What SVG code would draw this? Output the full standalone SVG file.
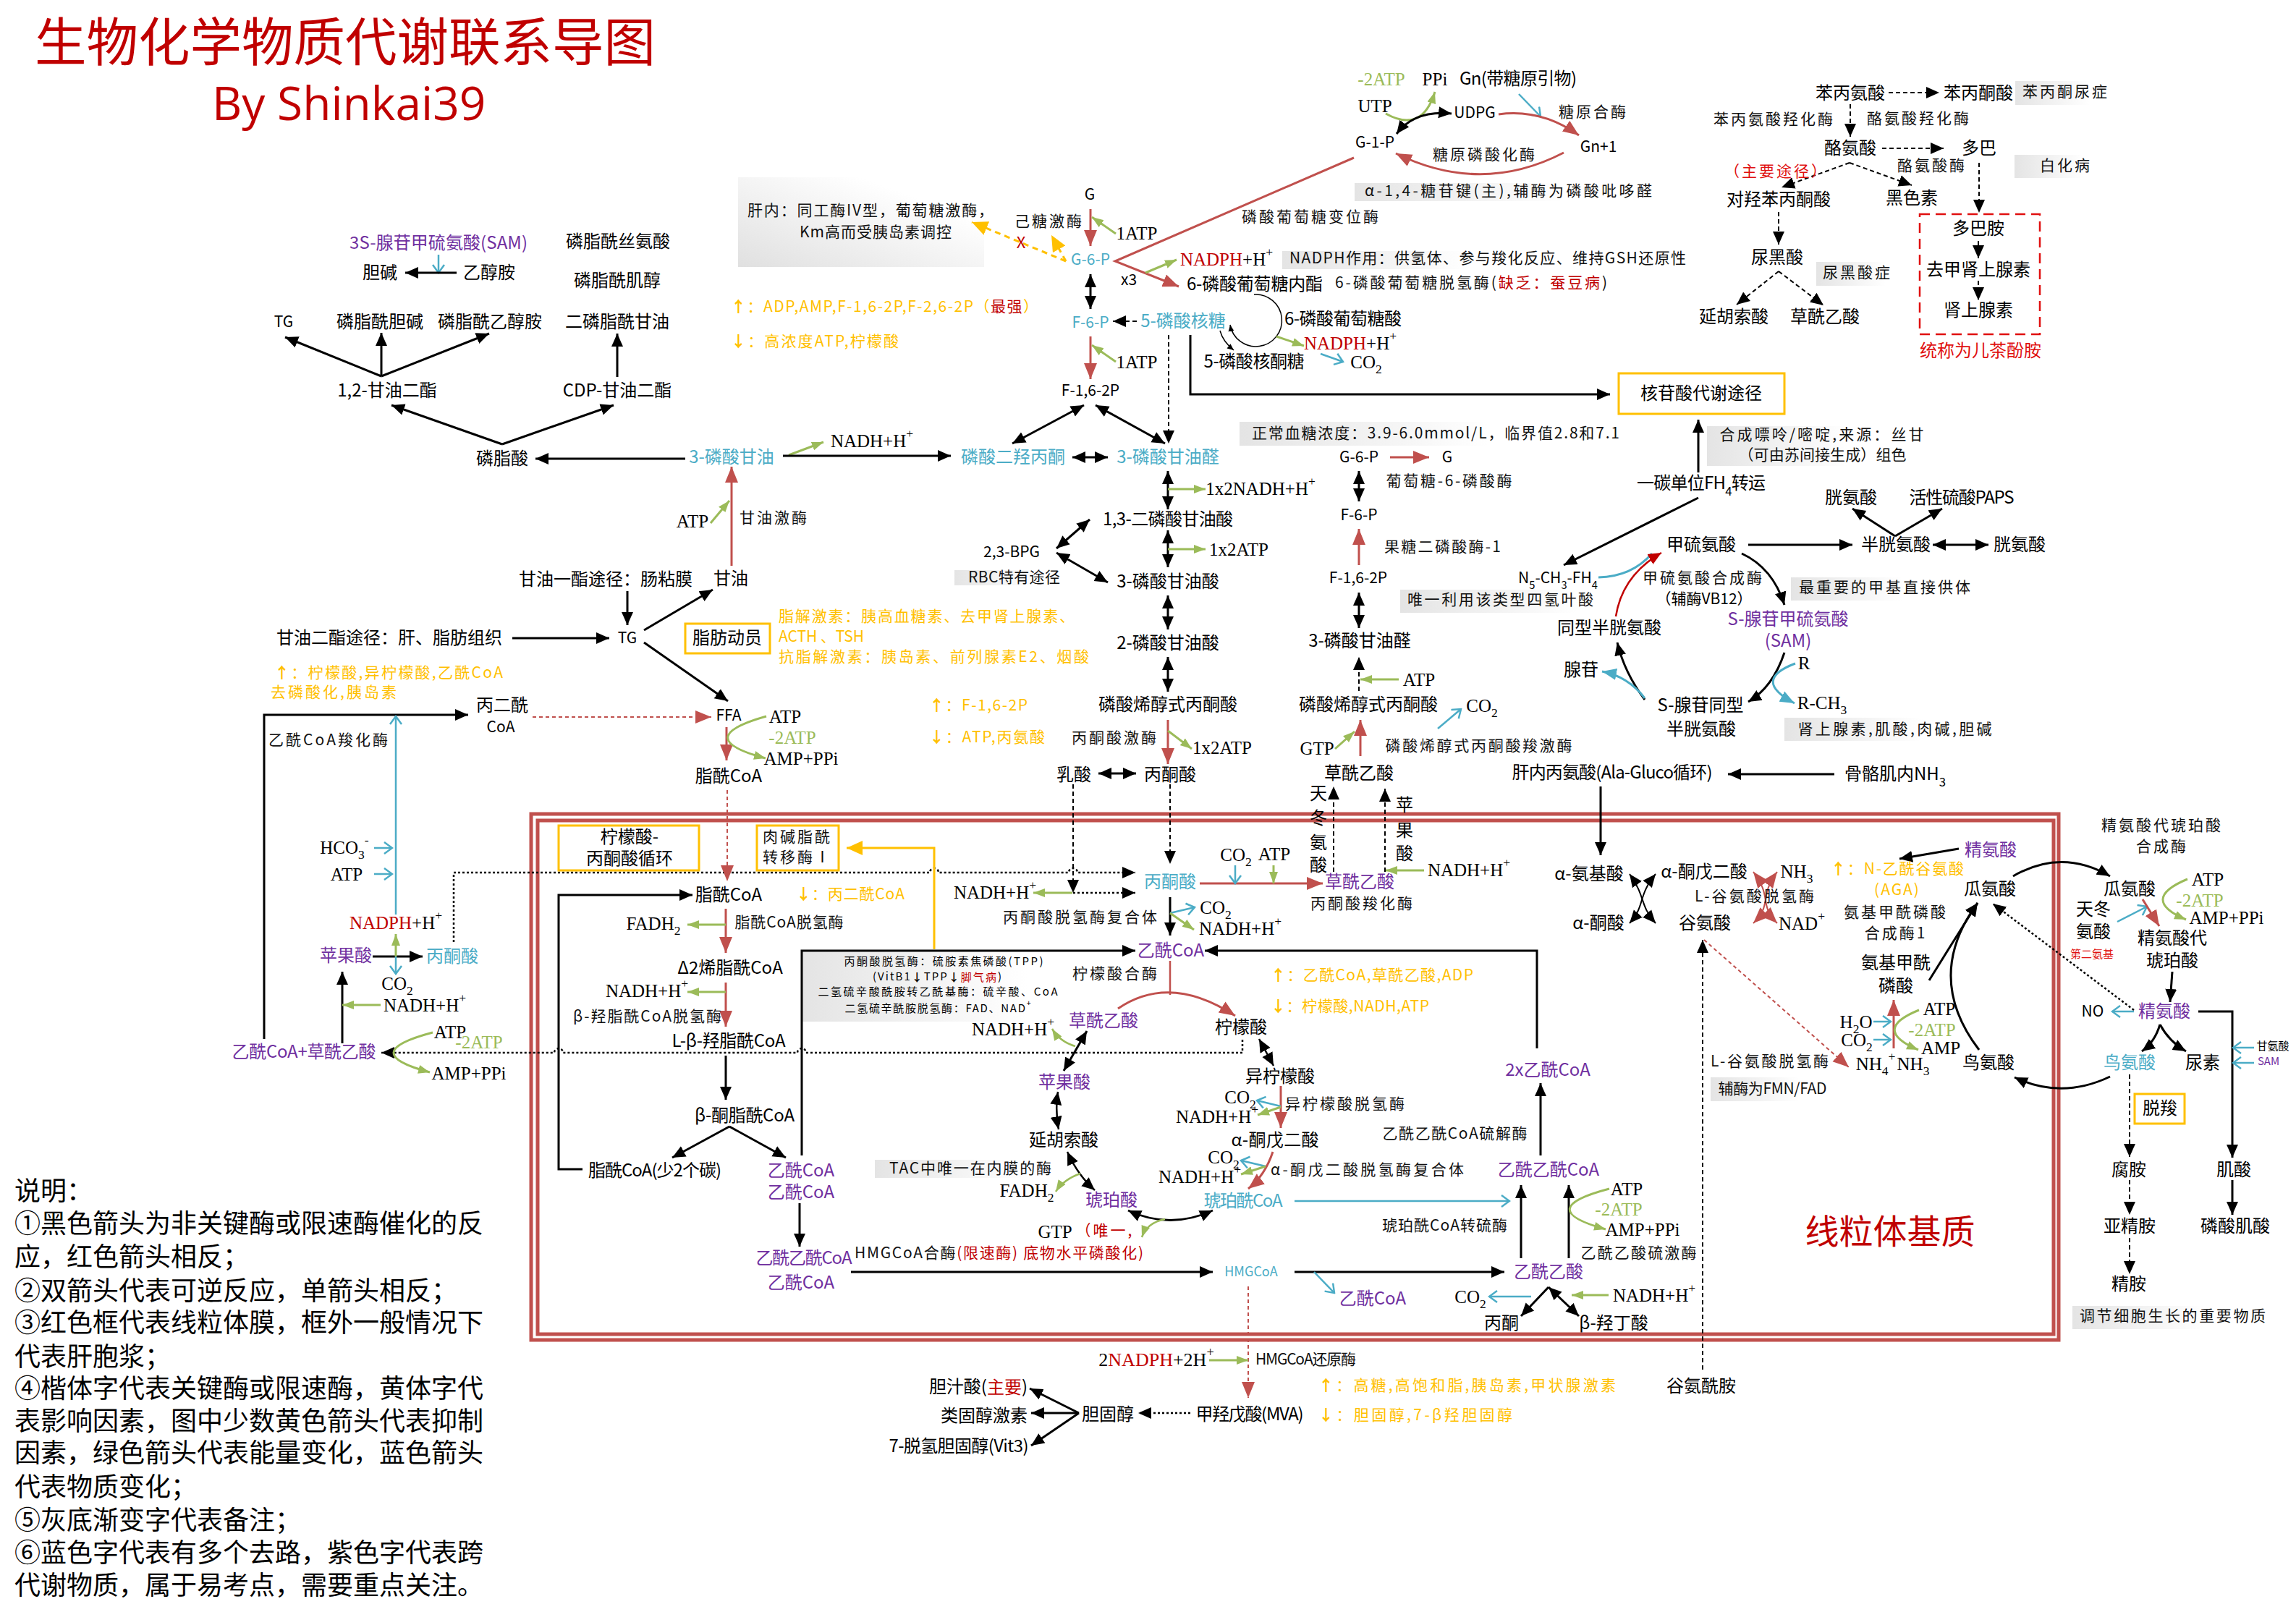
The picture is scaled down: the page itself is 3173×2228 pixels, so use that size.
<svg xmlns="http://www.w3.org/2000/svg" width="3173" height="2228" viewBox="0 0 3173 2228">
<style>
text{font-family:"Noto Sans CJK SC","Liberation Sans",sans-serif;font-size:24px;text-anchor:middle;dominant-baseline:central;fill:#000;transform:translateY(-2.5px)}
.m{font-family:"Liberation Serif","Noto Sans CJK SC",serif;font-size:25px;transform:none}
.s{font-size:21px}
.e{font-size:21px;letter-spacing:3px;fill:#111}
.n{font-size:15px}
.st{text-anchor:start}
.y{font-size:21px;letter-spacing:2px;fill:#ffc000;text-anchor:start}
.B{fill:#4bacc6}.P{fill:#7030a0}.R{fill:#c00000}.G{fill:#9bbb59}
.sb{baseline-shift:sub;font-size:70%}.sp{baseline-shift:super;font-size:70%}
.ar{font-weight:700}
.lg{font-size:36px;text-anchor:start}
.k,.kk,.kd,.kt,.kn,.r,.rd,.g,.b,.bf,.dr,.yw,.ys,.t,.tt{fill:none}
.k,.kk,.kd,.kt,.kn,.t,.tt{stroke:#000;stroke-width:3}
.k,.kk,.kd,.kt{marker-end:url(#a)}.kk{marker-start:url(#a)}
.kd{stroke-dasharray:6 4;stroke-width:2}
.kt{stroke-dasharray:3 3;stroke-width:2.5}
.t,.tt{stroke-width:1.5;marker-end:url(#as)}
.r,.rd{stroke:#c0504d;stroke-width:3;marker-end:url(#ar)}
.rd{stroke-dasharray:5 4;stroke-width:2}
.dr{stroke:#c00000;stroke-width:2.5;marker-end:url(#ad)}
.g{stroke:#9bbb59;stroke-width:3;marker-end:url(#ag)}
.b{stroke:#4bacc6;stroke-width:2.5;marker-end:url(#ab)}
.bf{stroke:#4bacc6;stroke-width:3;marker-end:url(#abf)}
.yw{stroke:#ffc000;stroke-width:3;stroke-dasharray:8 6;marker-end:url(#ay)}
.ys{stroke:#ffc000;stroke-width:3;marker-end:url(#ay)}
.bx{fill:#fff;stroke:#ffc000;stroke-width:3}
.gb{fill:url(#gr)}
.mt{fill:none;stroke:#c0504d;stroke-width:5}
</style>
<defs>
<linearGradient id="gr"><stop offset="0" stop-color="#e4e4e4"/><stop offset="1" stop-color="#fff"/></linearGradient>
<linearGradient id="gd" x1="0" y1="1" x2="1" y2="0"><stop offset="0" stop-color="#e0e0e0"/><stop offset=".75" stop-color="#fff"/></linearGradient>
<marker id="a" markerUnits="userSpaceOnUse" markerWidth="20" markerHeight="18" refX="18" refY="9" orient="auto-start-reverse"><path d="M0 1L18 9L0 17z"/></marker>
<marker id="as" markerUnits="userSpaceOnUse" markerWidth="10" markerHeight="10" refX="9" refY="5" orient="auto-start-reverse"><path d="M0 1L9 5L0 9z"/></marker>
<marker id="ar" markerUnits="userSpaceOnUse" markerWidth="24" markerHeight="20" refX="22" refY="10" orient="auto-start-reverse"><path d="M0 1L22 10L0 19z" fill="#c0504d"/></marker>
<marker id="ad" markerUnits="userSpaceOnUse" markerWidth="20" markerHeight="18" refX="18" refY="9" orient="auto-start-reverse"><path d="M0 1L18 9L0 17z" fill="#c00000"/></marker>
<marker id="ag" markerUnits="userSpaceOnUse" markerWidth="18" markerHeight="14" refX="16" refY="7" orient="auto-start-reverse"><path d="M0 1L16 7L0 13z" fill="#9bbb59"/></marker>
<marker id="ab" markerUnits="userSpaceOnUse" markerWidth="14" markerHeight="18" refX="12" refY="9" orient="auto-start-reverse"><path d="M1 1L12 9L1 17" fill="none" stroke="#4bacc6" stroke-width="2.5"/></marker>
<marker id="abf" markerUnits="userSpaceOnUse" markerWidth="22" markerHeight="18" refX="20" refY="9" orient="auto-start-reverse"><path d="M0 1L20 9L0 17z" fill="#4bacc6"/></marker>
<marker id="ay" markerUnits="userSpaceOnUse" markerWidth="24" markerHeight="22" refX="22" refY="11" orient="auto-start-reverse"><path d="M0 1L22 11L0 21z" fill="#ffc000"/></marker>
</defs>
<rect width="3173" height="2228" fill="#fff"/>
<g id="notes-bg">
<rect x="1020" y="245" width="340" height="124" fill="url(#gd)"/>
<rect class="gb" x="1872" y="253" width="288" height="25"/>
<rect class="gb" x="1772" y="347" width="258" height="25"/>
<rect class="gb" x="1713" y="583" width="344" height="33"/>
<rect class="gb" x="2785" y="112" width="102" height="33"/>
<rect class="gb" x="2784" y="214" width="96" height="32"/>
<rect class="gb" x="2510" y="362" width="96" height="33"/>
<rect class="gb" x="2359" y="589" width="196" height="55"/>
<rect class="gb" x="2475" y="798" width="155" height="32"/>
<rect class="gb" x="2466" y="992" width="191" height="32"/>
<rect class="gb" x="1319" y="788" width="111" height="21"/>
<rect class="gb" x="1935" y="815" width="245" height="32"/>
<rect class="gb" x="1108" y="1314" width="312" height="98"/>
<rect class="gb" x="1209" y="1603" width="211" height="25"/>
<rect class="gb" x="2364" y="1489" width="122" height="33"/>
<rect class="gb" x="2864" y="1805" width="183" height="32"/>
</g>
<g id="membrane">
<rect class="mt" x="734" y="1125" width="2111" height="727"/>
<rect class="mt" x="743" y="1134" width="2095" height="710"/>
</g>
<g id="connectors">
<path class="b" d="M606 352V377"/>
<path class="k" d="M631 377H560"/>
<path class="k" d="M527 520L394 466"/><path class="k" d="M527 520V460"/><path class="k" d="M527 520L676 461"/>
<path class="k" d="M853 521V461"/>
<path class="k" d="M694 614L541 560"/><path class="k" d="M694 614L848 560"/>
<path class="k" d="M947 634H740"/>
<path class="k" d="M867 817V864"/>
<path class="k" d="M708 882H842"/>
<path class="k" d="M890 871L985 815"/>
<path class="k" d="M890 888L1006 969"/>
<path class="r" d="M1011 782V645"/>
<path class="g" d="M982 723L1008 692"/>
<path class="r" d="M1507 289V340"/><path class="g" d="M1542 323L1509 300"/>
<path class="yw" d="M1473 361L1343 307"/><path class="yw" d="M1473 361L1453 325"/>
<path class="kk" d="M1507 379V427"/>
<path class="kd" d="M1571 444H1538"/>
<path class="r" d="M1507 465V524"/><path class="g" d="M1542 500L1509 477"/>
<path class="kk" d="M1498 560L1399 613"/><path class="kk" d="M1514 560L1610 613"/>
<path class="kd" d="M1615 463V613"/>
<path class="k" d="M1645 463V545H2225"/>
<path class="r" d="M1871 218L1541 361L1629 396"/>
<path class="g" d="M1583 377L1626 359"/>
<path class="g" d="M1090 629L1138 611"/>
<path class="k" d="M1082 630H1314"/>
<path class="kk" d="M1482 632H1531"/>
<path class="g" d="M1915 157Q1965 185 1983 127"/>
<path class="kk" d="M2006 157Q1955 152 1930 185"/>
<path class="b" d="M2099 130L2129 161"/>
<path class="r" d="M2071 158Q2130 150 2182 187"/>
<path class="r" d="M2161 211Q2047 270 1929 212"/>
<path class="t" d="M1733 407A36 36 0 1 1 1700 449"/>
<path class="tt" d="M1686 457Q1690 472 1705 484"/>
<path class="g" d="M1764 465L1802 478"/>
<path class="b" d="M1825 489L1856 500"/>
<path class="kd" d="M2610 128H2680"/><path class="kd" d="M2557 144V189"/><path class="kd" d="M2601 205H2686"/>
<path class="kd" d="M2556 225L2462 259"/><path class="kd" d="M2556 225L2642 256"/>
<path class="kd" d="M2735 225V294"/><path class="kd" d="M2734 333V357"/><path class="kd" d="M2734 388V415"/>
<path class="kd" d="M2458 293V338"/><path class="kd" d="M2458 375L2400 421"/><path class="kd" d="M2458 375L2520 422"/>
<rect x="2653" y="296" width="166" height="166" fill="none" stroke="#e01010" stroke-width="2.5" stroke-dasharray="14 8"/>
<path class="k" d="M2347 653V580"/>
<path class="k" d="M2347 688L2161 781"/>
<path class="kn" style="stroke:#4bacc6" d="M2209 798Q2255 797 2283 765"/>
<path class="dr" d="M2233 852Q2242 795 2296 764"/>
<path class="k" d="M2416 753H2560"/>
<path class="kk" d="M2671 753H2748"/>
<path class="k" d="M2619 741L2560 703"/><path class="k" d="M2619 741L2684 703"/>
<path class="k" d="M2407 765Q2450 785 2466 836"/>
<path class="k" d="M2466 902Q2450 950 2416 970"/>
<path class="bf" d="M2481 917Q2420 940 2480 972"/>
<path class="k" d="M2535 1070H2388"/>
<path class="k" d="M2273 967Q2245 930 2235 888"/>
<path class="bf" d="M2273 965Q2250 935 2214 928"/>
<path class="kk" d="M1614 651V704"/><path class="g" d="M1614 676H1666"/>
<path class="kk" d="M1614 733V784"/><path class="g" d="M1614 759H1666"/>
<path class="kk" d="M1460 758L1506 718"/><path class="kk" d="M1460 764L1531 805"/>
<path class="kk" d="M1614 823V870"/><path class="kk" d="M1614 908V956"/>
<path class="r" d="M1614 995V1056"/><path class="g" d="M1614 1010L1647 1035"/>
<path class="kk" d="M1518 1069H1570"/>
<path class="r" d="M1921 632H1975"/>
<path class="kk" d="M1878 651V693"/>
<path class="r" d="M1878 781V731"/>
<path class="kk" d="M1878 819V868"/>
<path class="kd" d="M1878 955V908"/><path class="g" d="M1933 939H1880"/>
<path class="b" d="M1987 1007L2019 980"/>
<path class="r" d="M1880 1045V995"/><path class="g" d="M1845 1035L1872 1011"/>
<path class="kd" d="M1483 1084V1234"/><path class="kd" d="M1617 1084V1194"/>
<path class="kd" d="M1843 1205V1087"/><path class="kd" d="M1914 1205V1090"/>
<path class="g" d="M1968 1203H1915"/>
<path class="r" d="M1658 1221H1828"/>
<path class="b" d="M1707 1196V1221"/><path class="g" d="M1760 1196V1221"/>
<path class="k" d="M1617 1240V1293"/>
<path class="b" d="M1617 1262L1651 1254"/><path class="g" d="M1617 1262L1650 1285"/>
<path class="g" d="M1482 1234H1428"/>
<path class="kt" d="M1483 1234H1569"/>
<path class="kt" d="M627 1302V1206H1285a6 6 0 0 1 12 0H1477a6 6 0 0 1 12 0H1569"/>
<path class="ys" d="M1291 1312V1172H1170"/>
<path class="k" d="M1108 1597V1314H1569"/>
<path class="k" d="M2124 1449V1314H1665"/>
<path class="kn" style="stroke:#c0504d;stroke-width:2.5" d="M1617 1328V1375"/>
<path class="r" d="M1545 1394Q1617 1345 1707 1404"/>
<path class="kk" d="M1502 1425L1470 1480"/>
<path class="g" style="stroke-width:2.5" d="M1486 1446Q1465 1440 1454 1422"/>
<path class="kk" style="stroke-width:2.5" d="M1462 1509Q1458 1535 1463 1561"/>
<path class="kk" style="stroke-width:2.5" d="M1475 1592Q1490 1625 1513 1645"/>
<path class="g" style="stroke-width:2.5" d="M1493 1622Q1470 1630 1459 1647"/>
<path class="kk" d="M1559 1673Q1617 1700 1676 1673"/>
<path class="g" style="stroke-width:2.5" d="M1610 1685Q1585 1690 1578 1710"/>
<path class="kk" style="stroke-width:2.5" d="M1740 1436L1760 1473"/>
<path class="r" d="M1770 1501V1559"/>
<path class="b" d="M1770 1529L1737 1521"/><path class="g" d="M1770 1530L1738 1541"/>
<path class="r" d="M1759 1592Q1748 1625 1725 1643"/>
<path class="b" d="M1749 1612L1715 1604"/><path class="g" d="M1749 1612L1715 1623"/>
<path class="b" d="M1789 1660H2086"/>
<path class="k" d="M1176 1758H1676"/>
<path class="k" d="M1789 1758H2079"/>
<path class="b" d="M1816 1758L1844 1787"/>
<path class="kt" d="M1717 1437V1455H1114a6 6 0 0 0 -12 0H778a6 6 0 0 0 -12 0H527"/>
<path class="k" d="M805 1616H772V1237H957"/>
<path class="k" d="M365 1436V988H647"/>
<path class="b" d="M547 1264V990"/>
<path class="b" d="M517 1172H542"/><path class="b" d="M517 1208H542"/>
<path class="k" d="M515 1322H584"/>
<path class="g" d="M547 1322V1291"/><path class="b" d="M547 1322V1346"/>
<path class="k" d="M473 1442V1343"/>
<path class="g" d="M526 1389H473"/>
<path class="g" d="M598 1427Q492 1455 594 1482"/>
<path class="rd" d="M736 991H983"/>
<path class="r" d="M1004 1005V1051"/>
<path class="g" d="M1059 990Q953 1020 1058 1048"/>
<path class="rd" d="M1005 1092V1218"/>
<path class="r" d="M1003 1256V1317"/><path class="g" d="M1003 1278H950"/>
<path class="r" d="M1003 1358V1419"/><path class="g" d="M1003 1371H950"/>
<path class="k" d="M1003 1459V1520"/>
<path class="k" d="M1008 1557L929 1600"/><path class="k" d="M1008 1557L1086 1600"/>
<path class="k" d="M1105 1663V1723"/>
<path class="k" d="M2102 1739V1638"/><path class="k" d="M2168 1739V1638"/>
<path class="k" d="M2129 1597V1497"/>
<path class="g" d="M2224 1643Q2117 1671 2219 1699"/>
<path class="k" d="M2140 1779L2102 1819"/><path class="kk" d="M2140 1779L2182 1819"/>
<path class="b" d="M2116 1792H2058"/><path class="g" d="M2223 1790H2172"/>
<path class="kd" style="stroke-width:1.8" d="M2353 1893V1299"/>
<path class="rd" d="M2355 1299L2555 1475"/>
<path class="k" d="M2212 1087V1182"/>
<path class="kk" style="stroke-width:2" d="M2252 1208C2275 1240 2265 1250 2288 1276"/>
<path class="kk" style="stroke-width:2" d="M2288 1208C2262 1240 2275 1250 2252 1276"/>
<path class="r" style="marker-start:url(#ar);stroke-width:2" d="M2423 1205C2450 1240 2430 1250 2456 1276"/>
<path class="r" style="marker-start:url(#ar);stroke-width:2" d="M2456 1205C2430 1240 2450 1250 2423 1276"/>
<path class="k" d="M2707 1173L2625 1187"/>
<path class="k" d="M2666 1355Q2700 1300 2733 1248"/>
<path class="k" d="M2735 1451Q2658 1350 2733 1248"/>
<path class="r" d="M2617 1449V1382"/>
<path class="b" d="M2589 1412H2613"/><path class="b" d="M2589 1437H2613"/>
<path class="g" d="M2652 1396Q2585 1423 2651 1451"/>
<path class="k" d="M2782 1211Q2849 1172 2916 1211"/>
<path class="b" d="M2926 1274L2967 1253"/>
<path class="r" d="M2961 1243L2984 1280"/>
<path class="g" d="M3023 1215Q2956 1243 3021 1271"/>
<path class="k" d="M3002 1343L2999 1385"/>
<path class="b" d="M2949 1398H2919"/>
<path class="kt" d="M2949 1396L2754 1249"/>
<path class="k" d="M2985 1416Q2978 1440 2960 1453"/><path class="k" d="M2985 1416Q2998 1440 3021 1453"/>
<path class="k" d="M3038 1398H3085V1600"/>
<path class="b" d="M3115 1448H3086"/><path class="b" d="M3115 1469H3086"/>
<path class="k" d="M2916 1488Q2849 1520 2784 1489"/>
<path class="kd" d="M2943 1485V1599"/><path class="kd" d="M2943 1631V1679"/><path class="kd" d="M2943 1711V1761"/>
<path class="k" d="M3085 1631V1679"/>
<path class="rd" d="M1725 1778V1932"/>
<path class="g" d="M1671 1880H1725"/>
<path class="kt" d="M1645 1953H1573"/>
<path class="k" d="M1491 1953L1423 1919"/><path class="k" d="M1491 1953H1425"/><path class="k" d="M1491 1953L1425 1998"/>
</g>
<g id="title"><text class="R st" x="48" y="55" style="font-size:71.5px">生物化学物质代谢联系导图</text></g>
<g id="author"><text class="R st" x="293" y="144" style="font-size:64px;font-family:'Open Sans','Noto Sans',sans-serif">By Shinkai39</text></g>
<g id="legend">
<text class="lg" x="20" y="1645">说明：</text>
<text class="lg" x="20" y="1690">①黑色箭头为非关键酶或限速酶催化的反</text>
<text class="lg" x="20" y="1736">应，红色箭头相反；</text>
<text class="lg" x="20" y="1783">②双箭头代表可逆反应，单箭头相反；</text>
<text class="lg" x="20" y="1827">③红色框代表线粒体膜，框外一般情况下</text>
<text class="lg" x="20" y="1874">代表肝胞浆；</text>
<text class="lg" x="20" y="1918">④楷体字代表关键酶或限速酶，黄体字代</text>
<text class="lg" x="20" y="1963">表影响因素，图中少数黄色箭头代表抑制</text>
<text class="lg" x="20" y="2007">因素，绿色箭头代表能量变化，蓝色箭头</text>
<text class="lg" x="20" y="2054">代表物质变化；</text>
<text class="lg" x="20" y="2100">⑤灰底渐变字代表备注；</text>
<text class="lg" x="20" y="2145">⑥蓝色字代表有多个去路，紫色字代表跨</text>
<text class="lg" x="20" y="2190">代谢物质，属于易考点，需要重点关注。</text>
</g>
<g id="n-lipids">
<g id="n1"><text class="P" x="606" y="336" textLength="246">3S-腺苷甲硫氨酸(SAM)</text></g>
<g id="n2"><text x="525" y="377">胆碱</text></g>
<g id="n3"><text x="676" y="377">乙醇胺</text></g>
<g id="n4"><text x="854" y="334">磷脂酰丝氨酸</text></g>
<g id="n5"><text x="853" y="388">磷脂酰肌醇</text></g>
<g id="n6"><text class="s" x="392" y="445">TG</text></g>
<g id="n7"><text x="525" y="445">磷脂酰胆碱</text></g>
<g id="n8"><text x="677" y="445">磷脂酰乙醇胺</text></g>
<g id="n9"><text x="853" y="445">二磷脂酰甘油</text></g>
<g id="n10"><text x="535" y="540">1,2-甘油二酯</text></g>
<g id="n11"><text x="853" y="540">CDP-甘油二酯</text></g>
<g id="n12"><text x="694" y="634">磷脂酸</text></g>
<g id="n13"><text class="B" x="1011" y="632">3-磷酸甘油</text></g>
<g id="n14"><text class="m" x="957" y="720">ATP</text></g>
<g id="n15"><text class="e" x="1070" y="716">甘油激酶</text></g>
<g id="n16"><text x="837" y="801">甘油一酯途径：肠粘膜</text></g>
<g id="n17"><text x="1010" y="800">甘油</text></g>
<g id="n18"><text x="538" y="882">甘油二酯途径：肝、脂肪组织</text></g>
<g id="n19"><text class="s" x="867" y="882">TG</text></g>
<g id="n20"><rect class="bx" x="947" y="862" width="117" height="41"/><text x="1005" y="882">脂肪动员</text></g>
<g id="n21"><text class="y" x="1076" y="852" textLength="411">脂解激素：胰高血糖素、去甲肾上腺素、</text></g>
<g id="n22"><text class="y" x="1076" y="880" textLength="120">ACTH 、TSH</text></g>
<g id="n23"><text class="y" x="1076" y="908" textLength="431">抗脂解激素：胰岛素、前列腺素E2、烟酸</text></g>
<g id="n24"><text class="y" x="379" y="930" textLength="318"><tspan class="ar">↑</tspan>：柠檬酸,异柠檬酸,乙酰CoA</text></g>
<g id="n25"><text class="y" x="374" y="957" textLength="176">去磷酸化,胰岛素</text></g>
<g id="n26"><text x="694" y="975">丙二酰</text></g>
<g id="n27"><text class="s" x="692" y="1005">CoA</text></g>
<g id="n28"><text class="e" x="455" y="1023">乙酰CoA羧化酶</text></g>
<g id="n29"><text class="m" x="476" y="1171">HCO<tspan class="sb">3</tspan><tspan class="sp">-</tspan></text></g>
<g id="n30"><text class="m" x="479" y="1208">ATP</text></g>
<g id="n31"><text class="m" x="547" y="1275"><tspan class="R">NADPH</tspan>+H<tspan class="sp">+</tspan></text></g>
<g id="n32"><text class="P" x="478" y="1321">苹果酸</text></g>
<g id="n33"><text class="B" x="625" y="1322">丙酮酸</text></g>
<g id="n34"><text class="m" x="549" y="1359">CO<tspan class="sb">2</tspan></text></g>
<g id="n35"><text class="m" x="587" y="1389">NADH+H<tspan class="sp">+</tspan></text></g>
<g id="n36"><text class="P" x="420" y="1454" textLength="199">乙酰CoA+草酰乙酸</text></g>
<g id="n37"><text class="m" x="622" y="1426">ATP</text></g>
<g id="n38"><text class="m G" x="662" y="1440">-2ATP</text></g>
<g id="n39"><text class="m" x="648" y="1483">AMP+PPi</text></g>
<g id="n40"><text class="s" x="1007" y="989">FFA</text></g>
<g id="n41"><text class="m" x="1085" y="990">ATP</text></g>
<g id="n42"><text class="m G" x="1095" y="1019">-2ATP</text></g>
<g id="n43"><text class="m" x="1107" y="1048">AMP+PPi</text></g>
<g id="n44"><text x="1007" y="1073">脂酰CoA</text></g>
<g id="n45"><rect class="bx" x="772" y="1141" width="194" height="62"/><text x="870" y="1157">柠檬酸-</text><text x="870" y="1187">丙酮酸循环</text></g>
<g id="n46"><rect class="bx" x="1046" y="1141" width="113" height="62"/><text class="e" x="1102" y="1157">肉碱脂酰</text><text class="e" x="1102" y="1185">转移酶Ⅰ</text></g>
<g id="n47"><text x="1007" y="1237">脂酰CoA</text></g>
<g id="n48"><text class="y" x="1100" y="1236" textLength="152"><tspan class="ar">↓</tspan>：丙二酰CoA</text></g>
<g id="n49"><text class="m" x="903" y="1276">FADH<tspan class="sb">2</tspan></text></g>
<g id="n50"><text class="e" x="1092" y="1275" textLength="153">脂酰CoA脱氢酶</text></g>
<g id="n51"><text x="1009" y="1338">Δ2烯脂酰CoA</text></g>
<g id="n52"><text class="m" x="894" y="1369">NADH+H<tspan class="sp">+</tspan></text></g>
<g id="n53"><text class="e" x="896" y="1405" textLength="208">β-羟脂酰CoA脱氢酶</text></g>
<g id="n54"><text x="1007" y="1439" textLength="157">L-β-羟脂酰CoA</text></g>
<g id="n55"><text x="1029" y="1542" textLength="138">β-酮脂酰CoA</text></g>
<g id="n56"><text x="905" y="1618" textLength="184">脂酰CoA(少2个碳)</text></g>
<g id="n57"><text class="P" x="1107" y="1618">乙酰CoA</text></g>
<g id="n58"><text class="P" x="1107" y="1648">乙酰CoA</text></g>
<g id="n59"><text class="P" x="1111" y="1739" textLength="133">乙酰乙酰CoA</text></g>
<g id="n60"><text class="P" x="1107" y="1773">乙酰CoA</text></g>
</g>
<g id="n-glycolysis">
<g id="g1"><text class="e st" x="1033" y="291" textLength="343">肝内：同工酶IV型，葡萄糖激酶，</text></g>
<g id="g2"><text class="e st" x="1105" y="321" textLength="213">Km高而受胰岛素调控</text></g>
<g id="g3"><text class="e" x="1450" y="306">己糖激酶</text></g>
<g id="g4"><text class="s" x="1506" y="269">G</text></g>
<g id="g5"><text class="m" x="1571" y="322">1ATP</text></g>
<g id="g6"><text class="B s" x="1507" y="359">G-6-P</text></g>
<g id="g7"><text class="R" x="1411" y="335" style="font-size:22px">X</text></g>
<g id="g8"><text class="s" x="1560" y="387">x3</text></g>
<g id="g9"><text class="m" x="1695" y="358"><tspan class="R">NADPH</tspan>+H<tspan class="sp">+</tspan></text></g>
<g id="g10"><text x="1734" y="393" textLength="188">6-磷酸葡萄糖内酯</text></g>
<g id="g11"><text class="y" x="1010" y="424" textLength="427"><tspan class="ar">↑</tspan>：ADP,AMP,F-1,6-2P,F-2,6-2P（<tspan class="R">最强</tspan>）</text></g>
<g id="g12"><text class="y" x="1010" y="472" textLength="234"><tspan class="ar">↓</tspan>：高浓度ATP,柠檬酸</text></g>
<g id="g13"><text class="B s" x="1507" y="446">F-6-P</text></g>
<g id="g14"><text class="B" x="1635" y="444">5-磷酸核糖</text></g>
<g id="g15"><text class="m" x="1571" y="500">1ATP</text></g>
<g id="g16"><text class="s" x="1507" y="540">F-1,6-2P</text></g>
<g id="g17"><text class="m" x="1205" y="609">NADH+H<tspan class="sp">+</tspan></text></g>
<g id="g18"><text class="B" x="1400" y="632">磷酸二羟丙酮</text></g>
<g id="g19"><text class="B" x="1614" y="632">3-磷酸甘油醛</text></g>
<g id="g20"><text class="m" x="1742" y="675">1x2NADH+H<tspan class="sp">+</tspan></text></g>
<g id="g21"><text x="1614" y="718" textLength="180">1,3-二磷酸甘油酸</text></g>
<g id="g22"><text class="m" x="1712" y="759">1x2ATP</text></g>
<g id="g23"><text class="s" x="1398" y="763">2,3-BPG</text></g>
<g id="g24"><text class="e" x="1403" y="798" textLength="130">RBC特有途径</text></g>
<g id="g25"><text x="1614" y="804">3-磷酸甘油酸</text></g>
<g id="g26"><text x="1614" y="889">2-磷酸甘油酸</text></g>
<g id="g27"><text x="1614" y="974">磷酸烯醇式丙酮酸</text></g>
<g id="g28"><text class="m" x="1689" y="1033">1x2ATP</text></g>
<g id="g29"><text class="e" x="1541" y="1020">丙酮酸激酶</text></g>
<g id="g30"><text class="y" x="1284" y="975" textLength="138"><tspan class="ar">↑</tspan>：F-1,6-2P</text></g>
<g id="g31"><text class="y" x="1284" y="1019" textLength="162"><tspan class="ar">↓</tspan>：ATP,丙氨酸</text></g>
<g id="g32"><text x="1484" y="1071">乳酸</text></g>
<g id="g33"><text x="1617" y="1071">丙酮酸</text></g>
</g>
<g id="n-glycogen">
<g id="h1"><text class="m G" x="1909" y="109">-2ATP</text></g>
<g id="h2"><text class="m" x="1983" y="109">PPi</text></g>
<g id="h3"><text x="2098" y="109" textLength="162">Gn(带糖原引物)</text></g>
<g id="h4"><text class="m" x="1900" y="146">UTP</text></g>
<g id="h5"><text class="s" x="2038" y="156">UDPG</text></g>
<g id="h6"><text class="e" x="2202" y="155">糖原合酶</text></g>
<g id="h7"><text class="s" x="1900" y="197">G-1-P</text></g>
<g id="h8"><text class="s" x="2209" y="203">Gn+1</text></g>
<g id="h9"><text class="e" x="2052" y="214">糖原磷酸化酶</text></g>
<g id="h10"><text class="e" x="2086" y="264" textLength="400">α-1,4-糖苷键(主),辅酶为磷酸吡哆醛</text></g>
<g id="h11"><text class="e" x="1812" y="300">磷酸葡萄糖变位酶</text></g>
<g id="h12"><text class="e st" x="1782" y="357" textLength="551">NADPH作用：供氢体、参与羧化反应、维持GSH还原性</text></g>
<g id="h13"><text class="e st" x="1845" y="391" textLength="379">6-磷酸葡萄糖脱氢酶(<tspan class="R">缺乏：蚕豆病</tspan>)</text></g>
<g id="h14"><text x="1856" y="441" textLength="162">6-磷酸葡萄糖酸</text></g>
<g id="h15"><text class="m" x="1866" y="474"><tspan class="R">NADPH</tspan>+H<tspan class="sp">+</tspan></text></g>
<g id="h16"><text x="1733" y="500" textLength="139">5-磷酸核酮糖</text></g>
<g id="h17"><text class="m" x="1888" y="500">CO<tspan class="sb">2</tspan></text></g>
<g id="h18"><rect class="bx" x="2237" y="516" width="229" height="56"/><text x="2351" y="544">核苷酸代谢途径</text></g>
<g id="h19"><text class="e st" x="1730" y="599" textLength="511">正常血糖浓度：3.9-6.0mmol/L，临界值2.8和7.1</text></g>
<g id="h20"><text class="s" x="1878" y="632">G-6-P</text></g>
<g id="h21"><text class="s" x="2000" y="632">G</text></g>
<g id="h22"><text class="e" x="2004" y="665" textLength="177">葡萄糖-6-磷酸酶</text></g>
<g id="h23"><text class="s" x="1878" y="712">F-6-P</text></g>
<g id="h24"><text class="e" x="1995" y="756" textLength="164">果糖二磷酸酶-1</text></g>
<g id="h25"><text class="s" x="1877" y="799">F-1,6-2P</text></g>
<g id="h26"><text class="e" x="2075" y="829" textLength="260">唯一利用该类型四氢叶酸</text></g>
<g id="h27"><text x="1879" y="886">3-磷酸甘油醛</text></g>
<g id="h28"><text class="m" x="1961" y="939">ATP</text></g>
<g id="h29"><text x="1891" y="974">磷酸烯醇式丙酮酸</text></g>
<g id="h30"><text class="m" x="2048" y="975">CO<tspan class="sb">2</tspan></text></g>
<g id="h31"><text class="m" x="1820" y="1034">GTP</text></g>
<g id="h32"><text class="e" x="2045" y="1031" textLength="261">磷酸烯醇式丙酮酸羧激酶</text></g>
<g id="h33"><text x="1878" y="1069">草酰乙酸</text></g>
<g id="h34"><text x="1822" y="1097">天</text><text x="1822" y="1131">冬</text><text x="1822" y="1165">氨</text><text x="1822" y="1196">酸</text></g>
<g id="h35"><text x="1941" y="1113">苹</text><text x="1941" y="1148">果</text><text x="1941" y="1180">酸</text></g>
<g id="h36"><text class="m" x="2030" y="1202">NADH+H<tspan class="sp">+</tspan></text></g>
</g>
<g id="n-amino">
<g id="a1"><text x="2557" y="129">苯丙氨酸</text></g>
<g id="a2"><text x="2734" y="129">苯丙酮酸</text></g>
<g id="a3"><text class="e" x="2855" y="127">苯丙酮尿症</text></g>
<g id="a4"><text class="e" x="2452" y="165">苯丙氨酸羟化酶</text></g>
<g id="a5"><text class="e" x="2652" y="164">酪氨酸羟化酶</text></g>
<g id="a6"><text x="2557" y="205">酪氨酸</text></g>
<g id="a7"><text x="2735" y="205">多巴</text></g>
<g id="a8"><text class="e" x="2855" y="229">白化病</text></g>
<g id="a9"><text class="e" style="fill:#e01010" x="2455" y="237">（主要途径）</text></g>
<g id="a10"><text class="e" x="2670" y="229">酪氨酸酶</text></g>
<g id="a11"><text x="2458" y="276">对羟苯丙酮酸</text></g>
<g id="a12"><text x="2642" y="274">黑色素</text></g>
<g id="a13"><text x="2734" y="316">多巴胺</text></g>
<g id="a14"><text x="2734" y="373">去甲肾上腺素</text></g>
<g id="a15"><text x="2734" y="429">肾上腺素</text></g>
<g id="a16"><text x="2737" y="485" style="fill:#e01010">统称为儿茶酚胺</text></g>
<g id="a17"><text x="2456" y="356">尿黑酸</text></g>
<g id="a18"><text class="e" x="2567" y="377">尿黑酸症</text></g>
<g id="a19"><text x="2396" y="438">延胡索酸</text></g>
<g id="a20"><text x="2522" y="438">草酰乙酸</text></g>
<g id="a21"><text class="e" x="2519" y="601" textLength="285">合成嘌呤/嘧啶,来源：丝甘</text></g>
<g id="a22"><text class="e" x="2520" y="629" textLength="235">（可由苏间接生成）组色</text></g>
<g id="a23"><text x="2351" y="668" textLength="178">一碳单位FH<tspan class="sb">4</tspan>转运</text></g>
<g id="a24"><text x="2558" y="688">胱氨酸</text></g>
<g id="a25"><text x="2711" y="688" textLength="145">活性硫酸PAPS</text></g>
<g id="a26"><text x="2351" y="753">甲硫氨酸</text></g>
<g id="a27"><text x="2620" y="753">半胱氨酸</text></g>
<g id="a28"><text x="2791" y="753">胱氨酸</text></g>
<g id="a29"><text x="2153" y="799" style="font-size:21px">N<tspan class="sb">5</tspan>-CH<tspan class="sb">3</tspan>-FH<tspan class="sb">4</tspan></text></g>
<g id="a30"><text class="e" x="2354" y="799">甲硫氨酸合成酶</text></g>
<g id="a31"><text x="2355" y="828" style="font-size:21px">（辅酶VB12）</text></g>
<g id="a32"><text x="2224" y="868">同型半胱氨酸</text></g>
<g id="a33"><text class="e" x="2606" y="812">最重要的甲基直接供体</text></g>
<g id="a34"><text class="P" x="2471" y="856">S-腺苷甲硫氨酸</text></g>
<g id="a35"><text class="P" x="2471" y="886">(SAM)</text></g>
<g id="a36"><text x="2185" y="926">腺苷</text></g>
<g id="a37"><text class="m" x="2493" y="916">R</text></g>
<g id="a38"><text class="m" x="2518" y="971">R-CH<tspan class="sb">3</tspan></text></g>
<g id="a39"><text x="2350" y="975">S-腺苷同型</text></g>
<g id="a40"><text x="2351" y="1008">半胱氨酸</text></g>
<g id="a41"><text class="e" x="2620" y="1008" textLength="271">肾上腺素,肌酸,肉碱,胆碱</text></g>
<g id="a42"><text x="2619" y="1070">骨骼肌内NH<tspan class="sb">3</tspan></text></g>
<g id="a43"><text x="2228" y="1068" textLength="277">肝内丙氨酸(Ala-Gluco循环)</text></g>
</g>
<g id="n-tca">
<g id="t1"><text class="B" x="1617" y="1219">丙酮酸</text></g>
<g id="t2"><text class="P" x="1879" y="1219">草酰乙酸</text></g>
<g id="t3"><text class="m" x="1708" y="1181">CO<tspan class="sb">2</tspan></text></g>
<g id="t4"><text class="m" x="1761" y="1180">ATP</text></g>
<g id="t5"><text class="e" x="1883" y="1249">丙酮酸羧化酶</text></g>
<g id="t6"><text class="m" x="1680" y="1254">CO<tspan class="sb">2</tspan></text></g>
<g id="t7"><text class="m" x="1714" y="1283">NADH+H<tspan class="sp">+</tspan></text></g>
<g id="t8"><text class="e" x="1494" y="1268">丙酮酸脱氢酶复合体</text></g>
<g id="t9"><text class="m" x="1375" y="1233">NADH+H<tspan class="sp">+</tspan></text></g>
<g id="t10"><text class="P" x="1618" y="1314">乙酰CoA</text></g>
<g id="t11"><text class="n" x="1304" y="1330" textLength="275">丙酮酸脱氢酶：硫胺素焦磷酸(TPP)</text></g>
<g id="t12"><text class="n" x="1295" y="1351" textLength="178">(VitB1<tspan class="ar">↓</tspan>TPP<tspan class="ar">↓</tspan><tspan class="R">脚气病</tspan>)</text></g>
<g id="t13"><text class="n" x="1296" y="1372" textLength="331">二氢硫辛酸酰胺转乙酰基酶：硫辛酸、CoA</text></g>
<g id="t14"><text class="n" x="1296" y="1395" textLength="257">二氢硫辛酰胺脱氢酶：FAD、NAD<tspan class="sp">+</tspan></text></g>
<g id="t15"><text class="e" x="1542" y="1346">柠檬酸合酶</text></g>
<g id="t16"><text class="y" x="1756" y="1348" textLength="282"><tspan class="ar">↑</tspan>：乙酰CoA,草酰乙酸,ADP</text></g>
<g id="t17"><text class="y" x="1756" y="1391" textLength="221"><tspan class="ar">↓</tspan>：柠檬酸,NADH,ATP</text></g>
<g id="t18"><text class="P" x="1525" y="1411">草酰乙酸</text></g>
<g id="t19"><text class="m" x="1400" y="1422">NADH+H<tspan class="sp">+</tspan></text></g>
<g id="t20"><text x="1715" y="1420">柠檬酸</text></g>
<g id="t21"><text class="P" x="1471" y="1496">苹果酸</text></g>
<g id="t22"><text x="1769" y="1488">异柠檬酸</text></g>
<g id="t23"><text class="m" x="1714" y="1516">CO<tspan class="sb">2</tspan></text></g>
<g id="t24"><text class="m" x="1682" y="1543">NADH+H<tspan class="sp">+</tspan></text></g>
<g id="t25"><text class="e" x="1860" y="1526">异柠檬酸脱氢酶</text></g>
<g id="t26"><text x="1470" y="1576">延胡索酸</text></g>
<g id="t27"><text x="1762" y="1576" textLength="121">α-酮戊二酸</text></g>
<g id="t28"><text class="e" x="2012" y="1567" textLength="203">乙酰乙酰CoA硫解酶</text></g>
<g id="t29"><text class="m" x="1691" y="1599">CO<tspan class="sb">2</tspan></text></g>
<g id="t30"><text class="m" x="1658" y="1626">NADH+H<tspan class="sp">+</tspan></text></g>
<g id="t31"><text class="e" x="1891" y="1617" textLength="270">α-酮戊二酸脱氢酶复合体</text></g>
<g id="t32"><text class="e st" x="1229" y="1615" textLength="227">TAC中唯一在内膜的酶</text></g>
<g id="t33"><text class="m" x="1419" y="1645">FADH<tspan class="sb">2</tspan></text></g>
<g id="t34"><text class="P" x="1536" y="1659">琥珀酸</text></g>
<g id="t35"><text class="B" x="1718" y="1660" textLength="109">琥珀酰CoA</text></g>
<g id="t36"><text class="e" x="1998" y="1694" textLength="176">琥珀酰CoA转硫酶</text></g>
<g id="t37"><text class="m" x="1458" y="1702">GTP</text></g>
<g id="t38"><text class="e" style="fill:#c00000" x="1527" y="1701">（唯一,</text></g>
<g id="t39"><text class="e st" x="1181" y="1732" textLength="402">HMGCoA合酶<tspan class="R">(限速酶) 底物水平磷酸化)</tspan></text></g>
<g id="t40"><text class="B" x="1729" y="1758" style="font-size:18px">HMGCoA</text></g>
<g id="t41"><text class="P" x="1897" y="1795">乙酰CoA</text></g>
<g id="t42"><text class="P" x="2140" y="1758">乙酰乙酸</text></g>
<g id="t43"><text class="P" x="2140" y="1617">乙酰乙酰CoA</text></g>
<g id="t44"><text class="P" x="2139" y="1479">2x乙酰CoA</text></g>
<g id="t45"><text class="m" x="2248" y="1643">ATP</text></g>
<g id="t46"><text class="m G" x="2237" y="1671">-2ATP</text></g>
<g id="t47"><text class="m" x="2270" y="1699">AMP+PPi</text></g>
<g id="t48"><text class="e" x="2266" y="1732" textLength="163">乙酰乙酸硫激酶</text></g>
<g id="t49"><text x="2075" y="1829">丙酮</text></g>
<g id="t50"><text x="2230" y="1829">β-羟丁酸</text></g>
<g id="t51"><text class="m" x="2032" y="1792">CO<tspan class="sb">2</tspan></text></g>
<g id="t52"><text class="m" x="2286" y="1790">NADH+H<tspan class="sp">+</tspan></text></g>
<g id="t53"><text class="R" x="2612" y="1701" style="font-size:47px">线粒体基质</text></g>
</g>
<g id="n-urea">
<g id="u1"><text x="2351" y="1916">谷氨酰胺</text></g>
<g id="u2"><text x="2356" y="1276">谷氨酸</text></g>
<g id="u3"><text class="e" x="2447" y="1467" textLength="166">L-谷氨酸脱氢酶</text></g>
<g id="u4"><text class="e" x="2451" y="1505" textLength="153">辅酶为FMN/FAD</text></g>
<g id="u5"><text class="m" x="2592" y="1470">NH<tspan class="sb">4</tspan><tspan class="sp">+</tspan></text></g>
<g id="u6"><text class="m" x="2644" y="1470">NH<tspan class="sb">3</tspan></text></g>
<g id="u7"><text x="2748" y="1469">鸟氨酸</text></g>
<g id="u8"><text x="2196" y="1208">α-氨基酸</text></g>
<g id="u9"><text x="2209" y="1276">α-酮酸</text></g>
<g id="u10"><text x="2355" y="1205">α-酮戊二酸</text></g>
<g id="u11"><text class="m" x="2483" y="1204">NH<tspan class="sb">3</tspan></text></g>
<g id="u12"><text class="m" x="2490" y="1276">NAD<tspan class="sp">+</tspan></text></g>
<g id="u13"><text class="e" x="2426" y="1239" textLength="168">L-谷氨酸脱氢酶</text></g>
<g id="u14"><text class="P" x="2751" y="1175">精氨酸</text></g>
<g id="u15"><text class="y" x="2530" y="1201" textLength="186"><tspan class="ar">↑</tspan>：N-乙酰谷氨酸</text></g>
<g id="u16"><text class="y" style="text-anchor:middle" x="2622" y="1230">(AGA)</text></g>
<g id="u17"><text class="e" x="2620" y="1261">氨基甲酰磷酸</text></g>
<g id="u18"><text class="e" x="2620" y="1290">合成酶1</text></g>
<g id="u19"><text x="2750" y="1229">瓜氨酸</text></g>
<g id="u20"><text x="2620" y="1331">氨基甲酰</text></g>
<g id="u21"><text x="2620" y="1363">磷酸</text></g>
<g id="u22"><text class="m" x="2565" y="1412">H<tspan class="sb">2</tspan>O</text></g>
<g id="u23"><text class="m" x="2566" y="1437">CO<tspan class="sb">2</tspan></text></g>
<g id="u24"><text class="m" x="2680" y="1394">ATP</text></g>
<g id="u25"><text class="m G" x="2670" y="1423">-2ATP</text></g>
<g id="u26"><text class="m" x="2682" y="1448">AMP</text></g>
<g id="u27"><text class="e" x="2988" y="1141">精氨酸代琥珀酸</text></g>
<g id="u28"><text class="e" x="2988" y="1170">合成酶</text></g>
<g id="u29"><text x="2943" y="1229">瓜氨酸</text></g>
<g id="u30"><text x="2893" y="1257">天冬</text></g>
<g id="u31"><text x="2893" y="1288">氨酸</text></g>
<g id="u32"><text class="m" x="3051" y="1215">ATP</text></g>
<g id="u33"><text class="m G" x="3040" y="1244">-2ATP</text></g>
<g id="u34"><text class="m" x="3077" y="1268">AMP+PPi</text></g>
<g id="u35"><text x="3002" y="1297">精氨酸代</text></g>
<g id="u36"><text x="3002" y="1328">琥珀酸</text></g>
<g id="u37"><text class="n" style="fill:#e01010" x="2891" y="1320">第二氨基</text></g>
<g id="u38"><text class="P" x="2991" y="1398">精氨酸</text></g>
<g id="u39"><text class="s" x="2892" y="1398">NO</text></g>
<g id="u40"><text class="B" x="2943" y="1469">鸟氨酸</text></g>
<g id="u41"><text x="3044" y="1469">尿素</text></g>
<g id="u42"><text class="n" x="3141" y="1447">甘氨酸</text></g>
<g id="u43"><text class="n P" x="3135" y="1468">SAM</text></g>
<g id="u44"><rect class="bx" x="2950" y="1512" width="69" height="41"/><text x="2985" y="1532">脱羧</text></g>
<g id="u45"><text x="2942" y="1617">腐胺</text></g>
<g id="u46"><text x="3087" y="1617">肌酸</text></g>
<g id="u47"><text x="2943" y="1695">亚精胺</text></g>
<g id="u48"><text x="3089" y="1695">磷酸肌酸</text></g>
<g id="u49"><text x="2942" y="1775">精胺</text></g>
<g id="u50"><text class="e" x="3004" y="1819" textLength="260">调节细胞生长的重要物质</text></g>
</g>
<g id="n-chol">
<g id="c1"><text class="m" x="1598" y="1879" style="font-size:26px">2<tspan class="R">NADPH</tspan>+2H<tspan class="sp">+</tspan></text></g>
<g id="c2"><text class="e" x="1806" y="1879" textLength="142">HMGCoA还原酶</text></g>
<g id="c3"><text class="y" x="1822" y="1915" textLength="413"><tspan class="ar">↑</tspan>：高糖,高饱和脂,胰岛素,甲状腺激素</text></g>
<g id="c4"><text class="y" x="1822" y="1956" textLength="270"><tspan class="ar">↓</tspan>：胆固醇,7-β羟胆固醇</text></g>
<g id="c5"><text x="1727" y="1955" textLength="149">甲羟戊酸(MVA)</text></g>
<g id="c6"><text x="1531" y="1955">胆固醇</text></g>
<g id="c7"><text x="1352" y="1917">胆汁酸(<tspan class="R">主要</tspan>)</text></g>
<g id="c8"><text x="1360" y="1957">类固醇激素</text></g>
<g id="c9"><text x="1325" y="1999" textLength="193">7-脱氢胆固醇(Vit3)</text></g>
</g>
</svg>
